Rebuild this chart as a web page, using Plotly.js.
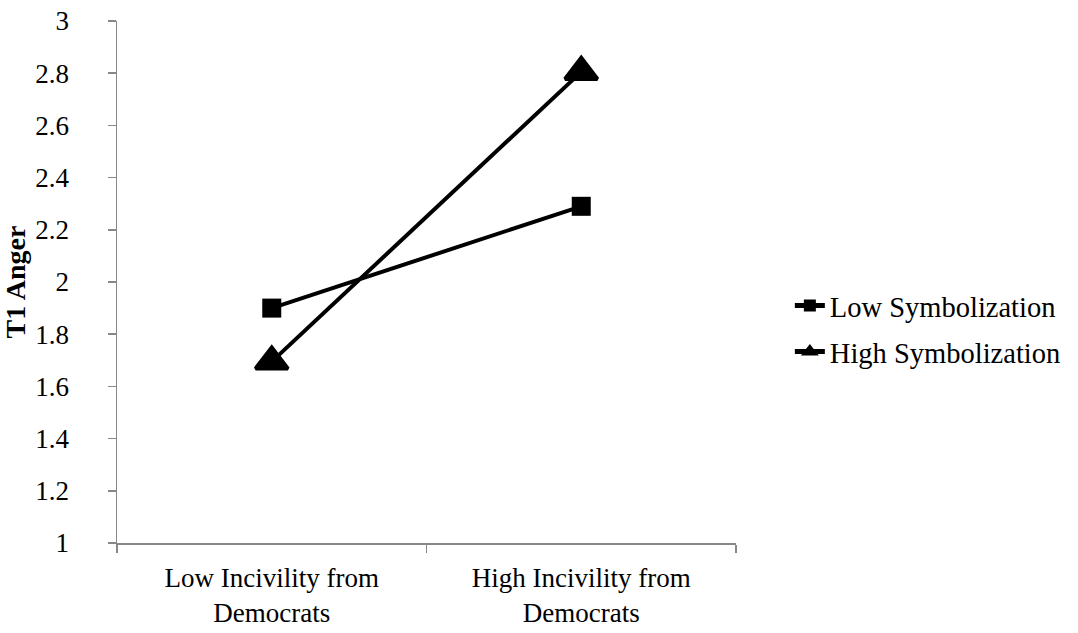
<!DOCTYPE html>
<html>
<head>
<meta charset="utf-8">
<script src="https://cdn.plot.ly/plotly-3.0.1.min.js"></script>
<style>html,body{margin:0;padding:0;background:#fff;}#chart{width:1078px;height:633px;}</style>
</head>
<body>
<div id="chart"></div>
<script>
const categories = ["Low Incivility from<br>Democrats", "High Incivility from<br>Democrats"];
const lowSymbolization = [1.90, 2.29];
const highSymbolization = [1.695, 2.805];
const yTicks = [1, 1.2, 1.4, 1.6, 1.8, 2, 2.2, 2.4, 2.6, 2.8, 3];
const yTickLabels = ["1", "1.2", "1.4", "1.6", "1.8", "2", "2.2", "2.4", "2.6", "2.8", "3"];

const font = "Liberation Serif, Times New Roman, serif";
const traces = [
  {x: categories, y: lowSymbolization, name: "Low Symbolization", type: "scatter", mode: "lines+markers", legendgroup: "a",
   line: {color: "#000", width: 4}, marker: {symbol: "square", size: 19, color: "#000"}},
  {x: categories, y: highSymbolization, name: "High Symbolization", type: "scatter", mode: "lines+markers", legendgroup: "b",
   line: {color: "#000", width: 4}, marker: {symbol: "triangle-up", size: 28, color: "#000", line: {color: "#000", width: 4}}}
];
const layout = {
  width: 1078, height: 633,
  margin: {l: 117, r: 340, t: 21, b: 90},
  paper_bgcolor: "#fff", plot_bgcolor: "#fff",
  font: {family: font, size: 27, color: "#000"},
  showlegend: true,
  legend: {x: 1.087, xanchor: "left", y: 0.41, yanchor: "middle", font: {family: font, size: 28.5, color: "#000"},
           itemsizing: "constant", traceorder: "grouped", tracegroupgap: 6, bgcolor: "rgba(0,0,0,0)"},
  xaxis: {type: "category", range: [-0.5, 1.5], tickson: "boundaries", ticks: "outside", ticklen: 8, tickcolor: "#888",
          tickwidth: 1.5, showline: true, linecolor: "#888", linewidth: 1.5, showgrid: false, zeroline: false,
          tickfont: {family: font, size: 27, color: "#000"}, ticklabelstandoff: 10, fixedrange: true},
  yaxis: {range: [1, 3], tickvals: yTicks, ticktext: yTickLabels, ticks: "outside", ticklen: 8, tickcolor: "#888",
          tickwidth: 1.5, showline: true, linecolor: "#888", linewidth: 1.5, showgrid: false, zeroline: false,
          tickfont: {family: font, size: 27, color: "#000"}, ticklabelstandoff: 33,
          title: {text: "<b>T1 Anger</b>", font: {family: font, size: 28, color: "#000"}, standoff: 2}}
};
Plotly.newPlot("chart", traces, layout, {displayModeBar: false, staticPlot: true});
</script>
</body>
</html>
